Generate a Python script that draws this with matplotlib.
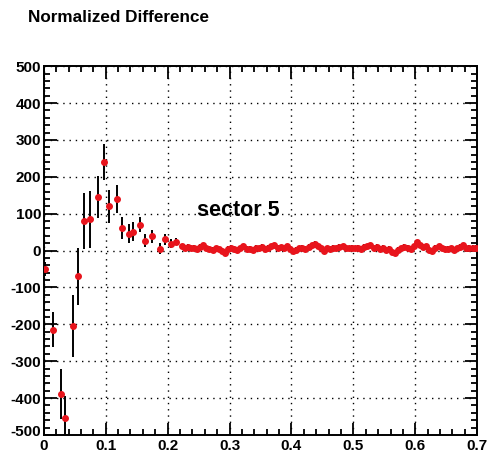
import numpy as np
import matplotlib.pyplot as plt
from matplotlib.ticker import MultipleLocator
from matplotlib.transforms import ScaledTranslation

# low-x bins: wide fluctuations with visible error bars
x_low = [0.0016, 0.0145, 0.027, 0.035, 0.047, 0.056, 0.0645, 0.074, 0.087,
         0.097, 0.105, 0.118, 0.126, 0.137, 0.144, 0.155, 0.163, 0.175,
         0.187, 0.195, 0.205, 0.214]
y_low = [-50, -215, -390, -455, -205, -70, 80, 85, 145,
         240, 120, 140, 62, 46, 51, 70, 27, 38,
         5, 30, 19, 24]
e_low = [20, 48, 68, 60, 85, 78, 77, 77, 57,
         48, 45, 37, 30, 25, 25, 20, 18, 18,
         15, 15, 12, 10]

# flat part, 0.005 wide bins from 0.22 up to 0.70
x_flat = np.arange(0.2225, 0.70, 0.005)
y_flat = [12, 8, 10, 6, 8, 5, 10, 14, 8, 5, 2, 6, 3, 0, -6, 4,
          8, 4, 2, 6, 12, 4, 5, 2, 8, 6, 10, 4, 8, 12, 14, 8, 9, 6, 12, 5,
          -2, 2, 6, 8, 4, 10, 14, 18, 12, 8, 0, 6, 4, 8, 6, 10, 12, 8, 6, 8,
          6, 8, 5, 10, 12, 14, 6, 10, 4, 8, 2, 4, -4, -6, 2, 6, 10, 8, 4, 12,
          22, 14, 10, 12, 2, -2, 8, 12, 6, 4, 4, 6, 2, 6, 10, 14, 8, 8, 8, 8]
e_flat = 7

plt.rcParams['font.family'] = ['Liberation Sans', 'DejaVu Sans']
plt.rcParams['axes.unicode_minus'] = False

fig = plt.figure(figsize=(4.92, 4.53), dpi=100)
ax = fig.add_axes([0.089, 0.040, 0.881, 0.814])

for xs, ys, es in [(x_low, y_low, e_low), (x_flat, y_flat, e_flat)]:
    ax.errorbar(xs, ys, yerr=es, fmt='o', color='#e8141c', ms=4.0,
                mec='#e8141c', ecolor='black', elinewidth=1.4, capsize=0,
                zorder=3)

ax.set_xlim(0, 0.7)
ax.set_ylim(-500, 500)
ax.xaxis.set_minor_locator(MultipleLocator(0.02))
ax.yaxis.set_major_locator(MultipleLocator(100))
ax.yaxis.set_minor_locator(MultipleLocator(20))
ax.set_xticks(np.arange(0, 0.71, 0.1))
ax.set_xticklabels(['0', '0.1', '0.2', '0.3', '0.4', '0.5', '0.6', '0.7'])
ax.set_yticks(np.arange(-500, 501, 100))
ax.set_yticklabels([str(v) for v in range(-500, 501, 100)])

ax.tick_params(which='both', direction='in', top=True, right=True,
               width=1.3, labelsize=11)
ax.tick_params(which='major', length=9)
ax.tick_params(which='minor', length=4.5)
ax.tick_params(axis='y', pad=2)
ax.tick_params(axis='x', pad=3)
for lab in ax.get_xticklabels() + ax.get_yticklabels():
    lab.set_fontweight('bold')

# lift the bottom y label a little so it clears the x origin label
low_lab = ax.get_yticklabels()[0]
low_lab.set_transform(low_lab.get_transform() +
                      ScaledTranslation(0, 3 / 72, fig.dpi_scale_trans))

ax.grid(True, which='major', color='black', linestyle=(0, (1, 3.5)),
        linewidth=1.0)
for sp in ax.spines.values():
    sp.set_linewidth(1.4)

ax.text(0.247, 108, 'sector 5', fontsize=15.5, fontweight='bold',
        va='center', ha='left')
fig.text(0.057, 0.951, 'Normalized Difference', fontsize=12.3,
         fontweight='bold', va='baseline')

fig.savefig('out.png', dpi=100)
